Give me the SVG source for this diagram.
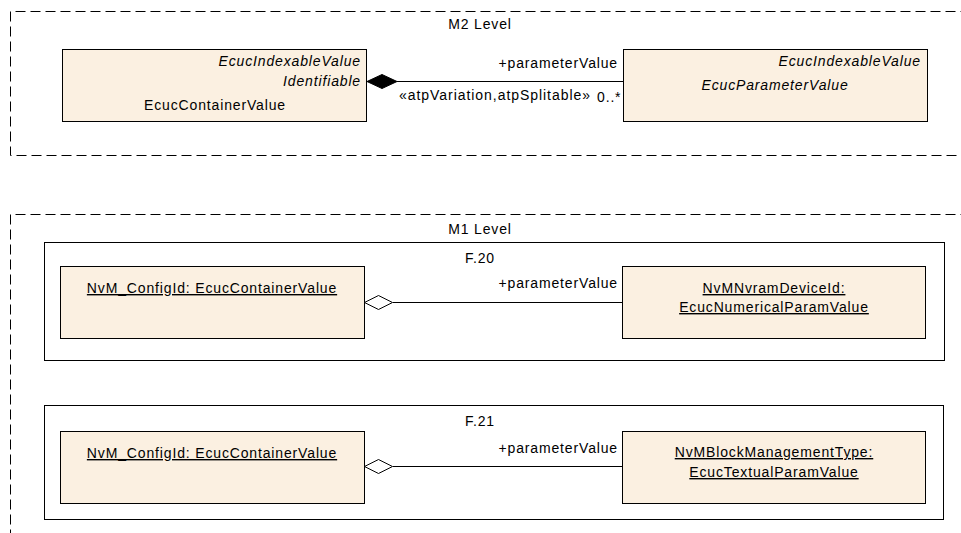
<svg xmlns="http://www.w3.org/2000/svg" width="961" height="533" viewBox="0 0 961 533">
<style>
text{font-family:"Liberation Sans",Arial,sans-serif;font-size:14px;letter-spacing:0.85px;fill:#000}
.it{font-style:italic}
.mid{text-anchor:middle}
.end{text-anchor:end}
.u{text-decoration:underline}
.st{letter-spacing:0.95px}
.pkg{fill:none;stroke:#000;stroke-width:1;stroke-dasharray:10,5}
.frame{fill:#fff;stroke:#000;stroke-width:1}
.box{fill:#FBF0E1;stroke:#000;stroke-width:1}
.ln{stroke:#000;stroke-width:1;fill:none}
</style>
<rect width="961" height="533" fill="#fff"/>
<g id="m2">
<path class="pkg" d="M970.5,11.5 H10.5 V155.5 H970.5"/>
<text class="mid" x="480" y="29">M2 Level</text>
</g>
<g id="m1">
<path class="pkg" d="M970.5,214.5 H10.5 V540"/>
<text class="mid" x="480" y="234">M1 Level</text>
</g>
<g id="f20">
<rect class="frame" x="44.5" y="242.5" width="900" height="118"/>
<text class="mid" x="480" y="263">F.20</text>
</g>
<g id="f21">
<rect class="frame" x="44.5" y="405.5" width="899" height="114"/>
<text class="mid" x="480" y="426">F.21</text>
</g>
<g id="ecucContainerValue">
<rect class="box" x="62.5" y="49.5" width="304" height="72"/>
<text class="it end" x="361" y="66">EcucIndexableValue</text>
<text class="it end" x="361" y="86">Identifiable</text>
<text class="mid" x="215" y="110">EcucContainerValue</text>
</g>
<g id="ecucParameterValue">
<rect class="box" x="623.5" y="49.5" width="304" height="72"/>
<text class="it end" x="921" y="66">EcucIndexableValue</text>
<text class="it mid" x="775" y="90">EcucParameterValue</text>
</g>
<g id="f20Container">
<rect class="box" x="60.5" y="266.5" width="304" height="72"/>
<text class="mid u" x="212" y="293">NvM_ConfigId: EcucContainerValue</text>
</g>
<g id="f20Param">
<rect class="box" x="622.5" y="266.5" width="303" height="72"/>
<text class="mid u" x="774" y="293">NvMNvramDeviceId:</text>
<text class="mid u" x="774" y="312">EcucNumericalParamValue</text>
</g>
<g id="f21Container">
<rect class="box" x="60.5" y="431.5" width="304" height="72"/>
<text class="mid u" x="212" y="458">NvM_ConfigId: EcucContainerValue</text>
</g>
<g id="f21Param">
<rect class="box" x="622.5" y="431.5" width="303" height="72"/>
<text class="mid u" x="774" y="457">NvMBlockManagementType:</text>
<text class="mid u" x="774" y="477">EcucTextualParamValue</text>
</g>
<g id="connectors">
<path class="ln" d="M397,81.5 H623"/>
<path d="M367,81.5 L382,74.5 L397,81.5 L382,88.5 Z" fill="#000" stroke="#000"/>
<text class="end" x="618" y="68">+parameterValue</text>
<text class="st" x="399" y="100">«atpVariation,atpSplitable»</text>
<text x="597" y="102">0..*</text>
<path class="ln" d="M393,302.5 H622"/>
<path d="M364.5,302.5 L378.5,295.5 L392.5,302.5 L378.5,309.5 Z" fill="#fff" stroke="#000"/>
<text class="end" x="618" y="288">+parameterValue</text>
<path class="ln" d="M393,466.5 H622"/>
<path d="M364.5,466.5 L378.5,459.5 L392.5,466.5 L378.5,473.5 Z" fill="#fff" stroke="#000"/>
<text class="end" x="618" y="453">+parameterValue</text>
</g>
</svg>
